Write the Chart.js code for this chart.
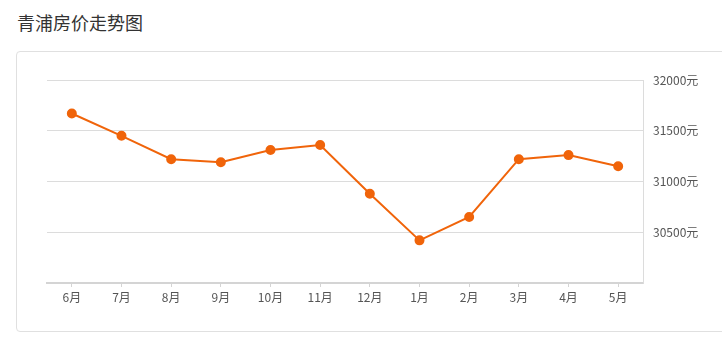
<!DOCTYPE html>
<html>
<head>
<meta charset="utf-8">
<script src="https://cdn.jsdelivr.net/npm/chart.js@4"></script>
<style>
  body { margin: 0; background: #fff; width: 722px; height: 352px; overflow: hidden; position: relative; }
  .title { position: absolute; left: 17px; top: 9px; font: 18px "Noto Sans CJK SC", sans-serif; color: #333; }
  .box { position: absolute; left: 16px; top: 51px; width: 760px; height: 279px; border: 1px solid #e0e0e0; border-radius: 4px; }
  #price_chart { position: absolute; left: 0; top: 0; }
</style>
</head>
<body>
<div class="title">青浦房价走势图</div>
<div class="box"></div>
<canvas id="price_chart" width="722" height="352"></canvas>
<script>
const months = ['6月', '7月', '8月', '9月', '10月', '11月', '12月', '1月', '2月', '3月', '4月', '5月'];
const prices = [31670, 31450, 31220, 31190, 31310, 31360, 30880, 30420, 30650, 31220, 31260, 31150];
const yMin = 30000;
const yMax = 32000;
const yStep = 500;

const orange = '#f0640a';

let ctx = document.getElementById('price_chart').getContext('2d');

const config = {
    type: 'line',
    data: {
        labels: months,
        datasets: [{
            data: prices,
            borderColor: orange,
            backgroundColor: orange,
            borderWidth: 2,
            pointRadius: 4,
            pointHoverRadius: 4,
            tension: 0,
            fill: false,
        }],
    },
    options: {
        responsive: false,
        animation: false,
        layout: {
            padding: { left: 47, top: 80, right: 0, bottom: 0 },
        },
        plugins: {
            legend: { display: false },
            tooltip: { enabled: false },
        },
        scales: {
            x: {
                offset: true,
                grid: {
                    display: true,
                    offset: false,
                    drawOnChartArea: false,
                    drawTicks: true,
                    tickLength: 4,
                    color: '#d4d4d4',
                },
                border: { color: '#d4d4d4', width: 2 },
                ticks: {
                    color: '#555',
                    font: { size: 12, family: '"Noto Sans CJK SC", sans-serif' },
                    padding: 3,
                    maxRotation: 0,
                    autoSkip: false,
                },
                afterFit: (scale) => { scale.height = 69; },
            },
            y: {
                position: 'right',
                min: yMin,
                max: yMax,
                ticks: {
                    stepSize: yStep,
                    color: '#555',
                    font: { size: 12, family: '"Noto Sans CJK SC", sans-serif' },
                    padding: 10,
                    callback: (v) => v === yMin ? '' : v + '元',
                },
                grid: {
                    color: '#dcdcdc',
                    drawTicks: false,
                },
                border: { display: true, color: '#dcdcdc' },
                afterFit: (scale) => { scale.width = 79; },
            },
        },
    },
};

const chart = new Chart(ctx, config);
</script>
</body>
</html>
